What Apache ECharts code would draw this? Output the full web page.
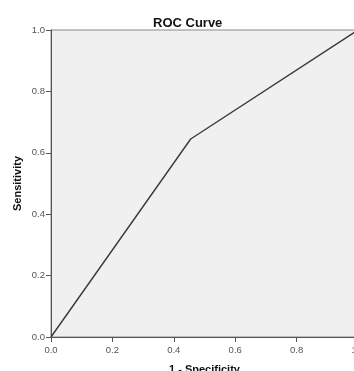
<!DOCTYPE html>
<html>
<head>
<meta charset="utf-8">
<script src="https://cdn.jsdelivr.net/npm/echarts@6/dist/echarts.min.js"></script>
<style>
  html, body { margin: 0; padding: 0; background: #fff; }
  #roc { width: 354px; height: 371px; }
</style>
</head>
<body>
<div id="roc"></div>
<script>
// ROC curve points (1 - specificity, sensitivity)
var specificity = [0, 0.455, 1];
var sensitivity = [0, 0.645, 1];
var tickLabels = ['0.0', '0.2', '0.4', '0.6', '0.8', '1.0'];

var chart = echarts.init(document.getElementById('roc'));

var axisStyle = function (name, gap, rotate, labelMargin) {
  return {
    type: 'value',
    min: 0,
    max: 1,
    interval: 0.2,
    name: name,
    nameLocation: 'middle',
    nameGap: gap,
    nameRotate: rotate,
    nameMoveOverlap: false,
    nameTextStyle: { fontFamily: 'Liberation Sans', fontWeight: 'bold', fontSize: 11, color: '#111' },
    axisLine: { show: true, lineStyle: { color: '#555', width: 1 } },
    axisTick: { show: true, length: 5, lineStyle: { color: '#555' } },
    axisLabel: {
      fontFamily: 'Liberation Sans',
      fontSize: 9.5,
      color: '#555',
      margin: labelMargin,
      formatter: function (v) { return tickLabels[Math.round(v * 5)]; }
    },
    splitLine: { show: false }
  };
};

var xAxis = axisStyle('1 - Specificity', 27, 0, 8);
var yAxis = axisStyle('Sensitivity', 28, 90, 6);

chart.setOption({
  animation: false,
  title: {
    text: 'ROC Curve',
    left: 148,
    top: 12,
    textStyle: { fontFamily: 'Liberation Sans', fontWeight: 'bold', fontSize: 13, color: '#111' }
  },
  grid: {
    left: 51,
    top: 30,
    width: 307,
    height: 307,
    outerBoundsMode: 'none',
    containLabel: false,
    show: true,
    backgroundColor: '#f0f0f0',
    borderColor: '#888',
    borderWidth: 1
  },
  xAxis: xAxis,
  yAxis: yAxis,
  series: [
    {
      type: 'line',
      data: specificity.map(function (x, i) { return [x, sensitivity[i]]; }),
      symbol: 'none',
      lineStyle: { color: '#3a3a3a', width: 1.4 }
    }
  ]
});
</script>
</body>
</html>
